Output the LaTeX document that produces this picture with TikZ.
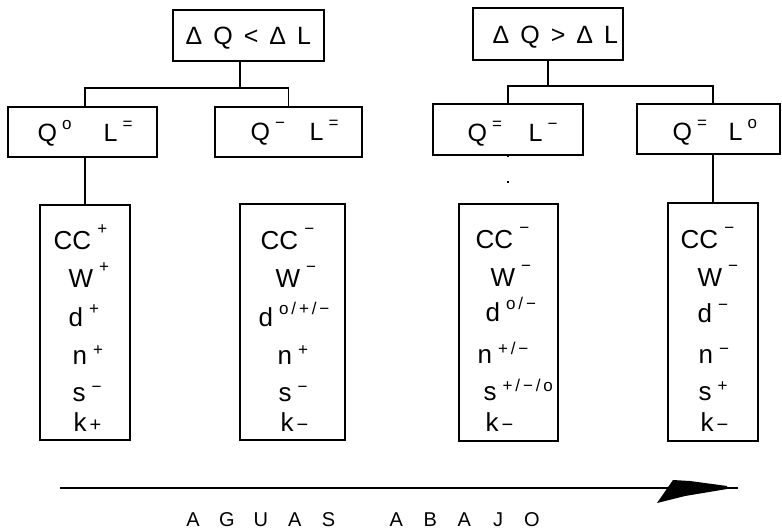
\documentclass[tikz,border=0pt]{standalone}
\usepackage{fontspec}
\setmainfont{Liberation Sans}
\newcommand\sps[1]{\hspace{6pt}\raisebox{15pt}{\fontsize{17}{17}\selectfont #1}}
\newcommand\spd[1]{\hspace{6pt}\raisebox{12pt}{\fontsize{17}{17}\selectfont #1}}
\newcommand\spl[1]{\hspace{6pt}\raisebox{9pt}{\fontsize{17}{17}\selectfont #1}}
\newcommand\spb[1]{\hspace{5pt}\raisebox{12pt}{\fontsize{17}{17}\selectfont #1}}
\newcommand\tail[1]{\hspace{3pt}{\fontsize{20}{20}\selectfont #1}}
\newcommand\gap{\hspace{11pt}}
\newcommand\slot[1]{\makebox[33.9pt][c]{#1}}
\begin{document}
\begin{tikzpicture}[x=1pt,y=-1pt,line width=1.4pt,
  box/.style={draw,rectangle,inner sep=0pt,outer sep=0pt},
  lbl/.style={anchor=base west,inner sep=0pt,font=\fontsize{26}{26}\selectfont},
  blbl/.style={anchor=base west,inner sep=0pt,font=\fontsize{25}{25}\selectfont},
  captxt/.style={anchor=base,inner sep=0pt,font=\fontsize{20}{20}\selectfont}]
\useasboundingbox (0,0) rectangle (782,532);

% top boxes
\node[box,minimum width=151pt,minimum height=51pt] (t1) at (248.5,35.5) {};
\node[box,minimum width=150pt,minimum height=52pt] (t2) at (548,34) {};
% second row
\node[box,minimum width=149pt,minimum height=50pt] (b1) at (82.5,132) {};
\node[box,minimum width=147pt,minimum height=50pt] (b2) at (288.5,132) {};
\node[box,minimum width=150pt,minimum height=51pt] (b3) at (508,129.5) {};
\node[box,minimum width=143pt,minimum height=50pt] (b4) at (708.5,129) {};
% columns
\node[box,minimum width=90pt,minimum height=235pt] (c1) at (85,322.5) {};
\node[box,minimum width=105pt,minimum height=236pt] (c2) at (292.5,322) {};
\node[box,minimum width=99pt,minimum height=237pt] (c3) at (508.5,322.5) {};
\node[box,minimum width=90pt,minimum height=238pt] (c4) at (713,322) {};

% connectors left
\draw ([xshift=-8.5pt]t1.south) -- ++(0,27) coordinate (j1);
\draw (b1.north -| c1.north) |- (j1 -| b2.north) -- (b2.north);
\draw (c1.north) -- (c1.north |- b1.south);
% connectors right
\draw (t2.south) -- ++(0,26) coordinate (j2);
\draw (b3.north) |- (j2 -| c4.north) -- (c4.north |- b4.north);
\draw (c4.north) -- (c4.north |- b4.south);
\draw[line width=1.2pt,dash pattern=on 2pt off 24pt] (b3.south) -- (b3.south |- c3.north);

% box texts
\node[blbl] (t1txt) at (185,45) {Δ\gap Q\gap <\gap Δ\gap L};
\node[blbl] (t2txt) at (492,44) {Δ\gap Q\gap >\gap Δ\gap L};
\node[blbl] (b1q) at (37,142) {Q\spb{o}};
\node[blbl] (b1l) at (103,142) {L\spb{=}};
\node[blbl] (b2q) at (250,141) {Q\spb{−}};
\node[blbl] (b2l) at (309,141) {L\spb{=}};
\node[blbl] (b3q) at (467,142) {Q\spb{=}};
\node[blbl] (b3l) at (528,142) {L\spb{−}};
\node[blbl] (b4q) at (672,141) {Q\spb{=}};
\node[blbl] (b4l) at (728,141) {L\spb{o}};

% column 1
\node[lbl] (c1a) at (53,249) {CC\sps{+}};
\node[lbl] (c1b) at (68,287) {W\sps{+}};
\node[lbl] (c1c) at (68,326) {d\spd{+}};
\node[lbl] (c1d) at (72,364) {n\spl{+}};
\node[lbl] (c1e) at (72,401) {s\spl{−}};
\node[lbl] (c1f) at (73,431) {k\tail{+}};
% column 2
\node[lbl] (c2a) at (260,249) {CC\sps{−}};
\node[lbl] (c2b) at (275,287) {W\sps{−}};
\node[lbl] (c2c) at (258,326) {d\spd{o\,/\,+\,/\,−}};
\node[lbl] (c2d) at (277,364) {n\spl{+}};
\node[lbl] (c2e) at (278,401) {s\spl{−}};
\node[lbl] (c2f) at (280,431) {k\tail{−}};
% column 3
\node[lbl] (c3a) at (475,248) {CC\sps{−}};
\node[lbl] (c3b) at (490,286) {W\sps{−}};
\node[lbl] (c3c) at (485,321) {d\spd{o\,/\,−}};
\node[lbl] (c3d) at (477,363) {n\spl{+\,/\,−}};
\node[lbl] (c3e) at (483,400) {s\spl{+\,/\,−\,/\,o}};
\node[lbl] (c3f) at (485,431) {k\tail{−}};
% column 4
\node[lbl] (c4a) at (680,248) {CC\sps{−}};
\node[lbl] (c4b) at (697,286) {W\sps{−}};
\node[lbl] (c4c) at (697,322) {d\spd{−}};
\node[lbl] (c4d) at (698,363) {n\spl{−}};
\node[lbl] (c4e) at (698,400) {s\spl{+}};
\node[lbl] (c4f) at (700,431) {k\tail{−}};

% arrow
\coordinate (as) at (60,488);
\coordinate (ae) at (738,488);
\draw[line width=1.5pt] (as) -- (ae);
\fill (657,503) -- (673,480) -- (690,481) -- (727,486) -- (727,489) -- (685,496) -- cycle;
\node[captxt] (aguas) at (362.5,526) {\slot{A}\slot{G}\slot{U}\slot{A}\slot{S}\slot{}\slot{A}\slot{B}\slot{A}\slot{J}\slot{O}};
\end{tikzpicture}
\end{document}
